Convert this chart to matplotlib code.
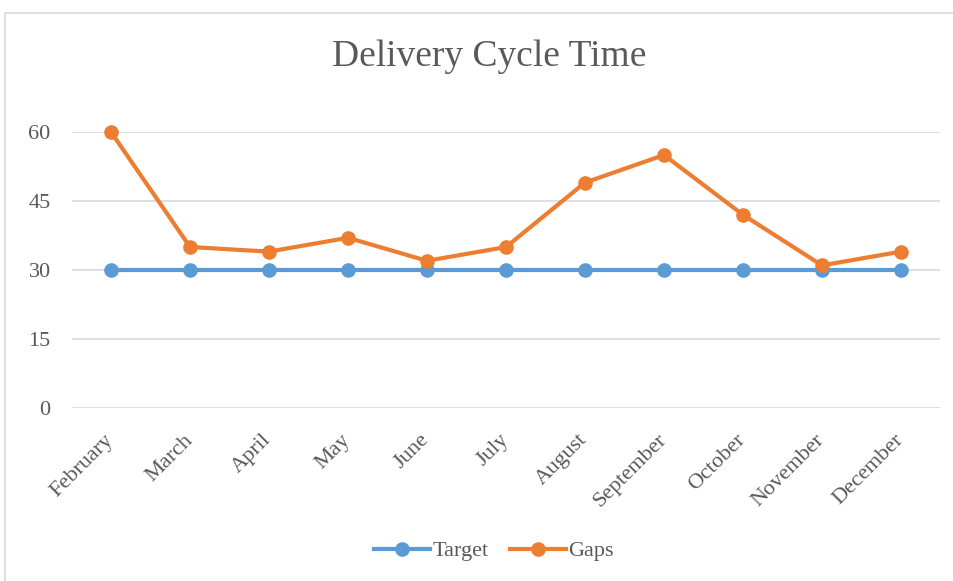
import matplotlib
matplotlib.use("Agg")
import matplotlib.pyplot as plt
import matplotlib.transforms as mtransforms
from matplotlib.patches import Rectangle

months = ["February", "March", "April", "May", "June", "July", "August",
          "September", "October", "November", "December"]
target = [30, 30, 30, 30, 30, 30, 30, 30, 30, 30, 30]
gaps = [60, 35, 34, 37, 32, 35, 49, 55, 42, 31, 34]
yticks = [0, 15, 30, 45, 60]

plt.rcParams['font.family'] = ['Liberation Serif', 'DejaVu Serif']
txt = '#595959'

fig = plt.figure(figsize=(9.54, 5.81), dpi=100)
fig.patches.append(Rectangle((5/954, -0.05), 1.2, 1 - 13/581 + 0.05,
                             transform=fig.transFigure, fill=False,
                             edgecolor='#D9D9D9', linewidth=1.2))
ax = fig.add_axes([71.5/954, 1 - 408/581, (940.5 - 71.5)/954, (408 - 132)/581])
x = list(range(len(months)))
ax.plot(x, target, color='#5B9BD5', lw=3, marker='o', ms=9.5, label='Target',
        clip_on=False, zorder=3)
ax.plot(x, gaps, color='#ED7D31', lw=3, marker='o', ms=9.5, label='Gaps',
        clip_on=False, zorder=4)
ax.set_xlim(-0.5, len(months) - 0.5)
ax.set_ylim(0, 60)
ax.set_yticks(yticks)
ax.set_yticklabels([str(v) for v in yticks], fontsize=16, color=txt)
ax.set_xticks(x)
ax.set_xticklabels(months, rotation=45, ha='right', rotation_mode='anchor',
                   fontsize=16, color=txt)
ax.tick_params(axis='both', length=0)
ax.tick_params(axis='y', pad=15)
ax.tick_params(axis='x', pad=12)
offset = mtransforms.ScaledTranslation(-7/100, -6/100, fig.dpi_scale_trans)
for lbl in ax.get_xticklabels():
    lbl.set_transform(lbl.get_transform() + offset)
ax.grid(axis='y', color='#D9D9D9', lw=1.2)
ax.set_axisbelow(True)
for s in ax.spines.values():
    s.set_visible(False)
fig.text(489.5/954, 1 - 57/581, 'Delivery Cycle Time', ha='center', va='center',
         fontsize=27, color=txt)
fig.legend(loc='center', bbox_to_anchor=(494/954, 1 - 551/581), ncol=2,
           frameon=False, fontsize=16, labelcolor=txt, handlelength=2.5,
           handletextpad=0.1, columnspacing=1.0)
fig.savefig('out.png', dpi=100)
